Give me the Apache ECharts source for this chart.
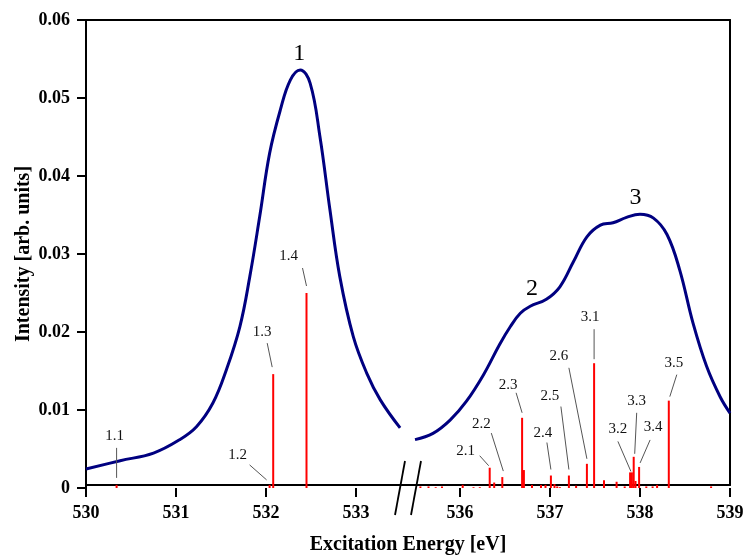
<!DOCTYPE html>
<html><head><meta charset="utf-8">
<script src="https://cdn.jsdelivr.net/npm/echarts@6/dist/echarts.min.js"></script>
<style>html,body{margin:0;padding:0;background:#fff}#c{width:747px;height:560px}</style>
</head><body><div id="c"></div>
<script>
// ---------- data ----------
const leftTicks = [530, 531, 532, 533];
const rightTicks = [536, 537, 538, 539];
const yTicks = [0, 0.01, 0.02, 0.03, 0.04, 0.05, 0.06];

const curveLeftE = [530.00,530.38,530.75,531.04,531.23,531.41,531.56,531.71,531.82,531.93,532.04,532.16,532.27,532.38,532.49,532.60,532.71,532.82,532.97,533.12,533.27,533.49];
const curveLeftI = [0.00243,0.0035,0.00448,0.00619,0.00789,0.01089,0.01516,0.0207,0.0271,0.0348,0.0429,0.0485,0.0523,0.0536,0.0519,0.0450,0.0357,0.0271,0.0194,0.0147,0.0113,0.0077];

const curveRightE = [535.50,535.70,535.89,536.07,536.26,536.44,536.56,536.67,536.78,536.96,537.11,537.26,537.41,537.56,537.70,537.85,538.00,538.15,538.30,538.44,538.59,538.74,538.89,539.00];
const curveRightI = [0.0062,0.0070,0.0087,0.0111,0.0145,0.0184,0.0207,0.0224,0.0233,0.0242,0.0258,0.0290,0.0322,0.0337,0.0340,0.0347,0.0351,0.0346,0.0325,0.0280,0.0211,0.0156,0.0117,0.0096];

const sticksLeftE = [530.34, 532.04, 532.08, 532.45];
const sticksLeftI = [0.0004, 0.0004, 0.0146, 0.0250];
const sticksLeftLabel = ['1.1', '1.2', '1.3', '1.4'];

const sticksRightE = [535.56,535.65,535.73,535.80,536.03,536.15,536.22,536.33,536.38,536.47,536.69,536.71,536.80,536.90,536.95,537.01,537.05,537.08,537.11,537.21,537.29,537.41,537.49,537.60,537.74,537.83,537.89,537.91,537.93,537.95,537.99,538.07,538.14,538.19,538.32,538.79];
const sticksRightI = [0.0002,0.0002,0.0001,0.0002,0.0004,0.0001,0.0001,0.0026,0.0007,0.0014,0.0090,0.0023,0.0004,0.0004,0.0004,0.0016,0.0005,0.0002,0.0001,0.0016,0.0003,0.0031,0.0160,0.0010,0.0008,0.0002,0.0020,0.0020,0.0040,0.0009,0.0027,0.0002,0.0002,0.0004,0.0112,0.0002];
const sticksRightLabel = ['','','','','','','','2.1','','2.2','2.3','','','','','2.4','','','','2.5','','2.6','3.1','','','','','3.2','3.3','','3.4','','','','3.5',''];

const peakNames = ['1', '2', '3'];
const peakE = [532.37, 536.80, 537.95];
const peakI = [0.0557, 0.0256, 0.0372];

// ---------- layout of annotation texts (pixel offsets from stick top) ----------
const annoLayout = {
  '1.1': {t:[-2,-49], a:[0,-37], b:[0,-7]},
  '1.2': {t:[-32,-30], a:[-20,-20], b:[-3,-5]},
  '1.3': {t:[-11,-42], a:[-6,-31], b:[-1,-7]},
  '1.4': {t:[-18,-37], a:[-4,-25], b:[0,-7]},
  '2.1': {t:[-24,-17], a:[-10,-12], b:[-1,-2]},
  '2.2': {t:[-21,-53], a:[-11,-44], b:[1,-6]},
  '2.3': {t:[-14,-33], a:[-6,-25], b:[0,-5]},
  '2.4': {t:[-8,-42], a:[-4,-33], b:[0,-6]},
  '2.5': {t:[-19,-79], a:[-8,-69], b:[0,-6]},
  '2.6': {t:[-28,-108], a:[-18,-96], b:[0,-5]},
  '3.1': {t:[-4,-46], a:[0,-34], b:[0,-4]},
  '3.2': {t:[-14,-43], a:[-14,-31], b:[-1,-1]},
  '3.3': {t:[3,-56], a:[3,-44], b:[1,-3]},
  '3.4': {t:[14,-40], a:[11,-27], b:[1,-4]},
  '3.5': {t:[5,-38], a:[8,-26], b:[1,-4]}
};

const SERIF = '"Liberation Serif", "Times New Roman", serif';
const zip = (a, b) => a.map((v, i) => [v, b[i]]);

function annoData(E, I, L) {
  const out = [];
  L.forEach((l, i) => { if (l) out.push({ value: [E[i], I[i]], name: l }); });
  return out;
}

function annoSeries(xi, E, I, L) {
  const data = annoData(E, I, L);
  return {
    type: 'custom', xAxisIndex: xi, yAxisIndex: xi, clip: false, z: 5, silent: true,
    data: data,
    renderItem: function (params, api) {
      const name = data[params.dataIndex].name;
      const lay = annoLayout[name];
      const p = api.coord([api.value(0), api.value(1)]);
      return {
        type: 'group',
        children: [
          { type: 'line', shape: { x1: p[0] + lay.a[0], y1: p[1] + lay.a[1], x2: p[0] + lay.b[0], y2: p[1] + lay.b[1] },
            style: { stroke: '#555', lineWidth: 1 } },
          { type: 'text', style: { text: name, x: p[0] + lay.t[0], y: p[1] + lay.t[1], align: 'center', verticalAlign: 'middle',
            fontFamily: SERIF, fontSize: 15, fill: '#111' } }
        ]
      };
    }
  };
}

const peakData = peakNames.map((n, i) => ({ value: [peakE[i], peakI[i]], name: n }));
function peakSeries(xi, names) {
  const data = peakData.filter(d => names.includes(d.name));
  return {
    type: 'custom', xAxisIndex: xi, yAxisIndex: xi, clip: false, z: 5, silent: true, data: data,
    renderItem: function (params, api) {
      const p = api.coord([api.value(0), api.value(1)]);
      return { type: 'text', style: { text: data[params.dataIndex].name, x: p[0], y: p[1], align: 'center', verticalAlign: 'middle',
        fontFamily: SERIF, fontSize: 24, fill: '#000' } };
    }
  };
}

const gridTop = 20, gridBottom = 72;
const axisLineStyle = { color: '#000', width: 2 };

function dataXAxis(gi, min, max, ticks) {
  return {
    type: 'value', gridIndex: gi, min: min, max: max, interval: 1,
    axisLine: { show: false, onZero: false },
    axisTick: { show: true, inside: false, length: 9, lineStyle: { color: '#000', width: 2 }, customValues: ticks },
    axisLabel: { show: true, customValues: ticks, margin: 16, fontFamily: SERIF, fontWeight: 'bold', fontSize: 18, color: '#000' },
    splitLine: { show: false }
  };
}

const chart = echarts.init(document.getElementById('c'));
const option = {
  backgroundColor: '#fff',
  animation: false,
  grid: [
    { left: 86, width: 315, top: gridTop, bottom: gridBottom },
    { left: 415, width: 315, top: gridTop, bottom: gridBottom },
    { left: 86, right: 17, top: gridTop, bottom: gridBottom }
  ],
  xAxis: [
    dataXAxis(0, 530, 533.5, leftTicks),
    dataXAxis(1, 535.5, 539, rightTicks),
    { type: 'value', gridIndex: 2, min: 0, max: 1, position: 'bottom',
      axisLine: { show: true, onZero: false, lineStyle: axisLineStyle }, axisTick: { show: false }, axisLabel: { show: false }, splitLine: { show: false },
      name: 'Excitation Energy [eV]', nameLocation: 'middle', nameGap: 50,
      nameTextStyle: { fontFamily: SERIF, fontWeight: 'bold', fontSize: 20, color: '#000' } },
    { type: 'value', gridIndex: 2, min: 0, max: 1, position: 'top',
      axisLine: { show: true, onZero: false, lineStyle: axisLineStyle }, axisTick: { show: false }, axisLabel: { show: false }, splitLine: { show: false } }
  ],
  yAxis: [
    { type: 'value', gridIndex: 0, min: 0, max: 0.06, interval: 0.01,
      axisLine: { show: true, onZero: false, lineStyle: axisLineStyle },
      axisTick: { show: true, length: 9, lineStyle: { color: '#000', width: 2 }, customValues: yTicks },
      axisLabel: { customValues: yTicks, margin: 16, fontFamily: SERIF, fontWeight: 'bold', fontSize: 18, color: '#000',
        formatter: v => (v === 0 ? '0' : v.toFixed(2)) },
      splitLine: { show: false },
      name: 'Intensity [arb. units]', nameLocation: 'middle', nameGap: 52, nameRotate: 90,
      nameTextStyle: { fontFamily: SERIF, fontWeight: 'bold', fontSize: 20, color: '#000' } },
    { type: 'value', gridIndex: 1, min: 0, max: 0.06, interval: 0.01, show: false },
    { type: 'value', gridIndex: 2, min: 0, max: 1, position: 'right',
      axisLine: { show: true, onZero: false, lineStyle: axisLineStyle }, axisTick: { show: false }, axisLabel: { show: false }, splitLine: { show: false } }
  ],
  series: [
    { type: 'bar', xAxisIndex: 0, yAxisIndex: 0, data: zip(sticksLeftE, sticksLeftI), barWidth: 2,
      itemStyle: { color: '#ff0000' }, silent: true },
    { type: 'bar', xAxisIndex: 1, yAxisIndex: 1, data: zip(sticksRightE, sticksRightI), barWidth: 2,
      itemStyle: { color: '#ff0000' }, silent: true },
    { type: 'line', xAxisIndex: 0, yAxisIndex: 0, data: zip(curveLeftE, curveLeftI), smooth: 0.4, showSymbol: false,
      lineStyle: { color: '#000080', width: 3 }, z: 3 },
    { type: 'line', xAxisIndex: 1, yAxisIndex: 1, data: zip(curveRightE, curveRightI), smooth: 0.4, showSymbol: false,
      lineStyle: { color: '#000080', width: 3 }, z: 3 },
    annoSeries(0, sticksLeftE, sticksLeftI, sticksLeftLabel),
    annoSeries(1, sticksRightE, sticksRightI, sticksRightLabel),
    peakSeries(0, ['1']),
    peakSeries(1, ['2', '3'])
  ]
};
chart.setOption(option);

// axis-break marks at the two ends of the gap
const xL = chart.convertToPixel({ xAxisIndex: 0 }, 533.5);
const xR = chart.convertToPixel({ xAxisIndex: 1 }, 535.5);
const y0 = chart.convertToPixel({ yAxisIndex: 0 }, 0);
const mark = (cx) => ({ type: 'line', shape: { x1: cx + 5, y1: y0 - 27, x2: cx - 5, y2: y0 + 27 },
  style: { stroke: '#000', lineWidth: 1.8 }, z: 10 });
chart.setOption({ graphic: [mark(xL - 1), mark(xR + 1)] });
</script>
</body></html>
